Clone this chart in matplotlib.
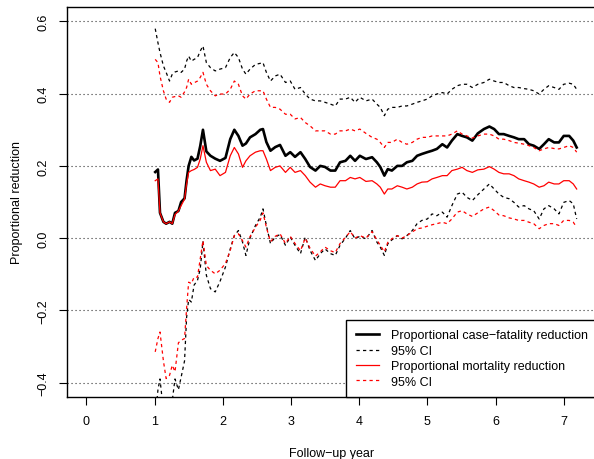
import matplotlib
matplotlib.use("Agg")
import matplotlib.pyplot as plt
from matplotlib.lines import Line2D

plt.rcParams["font.family"] = ["Liberation Sans", "DejaVu Sans"]
plt.rcParams["axes.unicode_minus"] = True

# Follow-up time (years) at which the cumulative estimates are evaluated
years = [1.01, 1.05, 1.08, 1.13, 1.17, 1.22, 1.26, 1.30, 1.35, 1.39, 1.44, 1.47,
         1.50, 1.54, 1.58, 1.63, 1.67, 1.71, 1.76, 1.82, 1.89, 1.96, 2.04, 2.11,
         2.17, 2.23, 2.29, 2.34, 2.40, 2.48, 2.55, 2.59, 2.64, 2.70, 2.77, 2.84,
         2.92, 2.99, 3.06, 3.14, 3.21, 3.28, 3.36, 3.43, 3.50, 3.58, 3.65, 3.72,
         3.80, 3.87, 3.94, 4.01, 4.10, 4.19, 4.26, 4.31, 4.37, 4.42, 4.48, 4.56,
         4.63, 4.70, 4.78, 4.85, 4.92, 5.00, 5.07, 5.14, 5.22, 5.29, 5.36, 5.44,
         5.51, 5.58, 5.66, 5.74, 5.83, 5.91, 5.98, 6.05, 6.12, 6.20, 6.27, 6.34,
         6.42, 6.49, 6.56, 6.64, 6.71, 6.78, 6.86, 6.93, 7.00, 7.08, 7.14, 7.19]

# Proportional case-fatality reduction and its 95% CI
cf_est = [0.183, 0.190, 0.070, 0.045, 0.040, 0.045, 0.040, 0.070, 0.075, 0.100, 0.110, 0.160,
          0.200, 0.225, 0.215, 0.220, 0.255, 0.300, 0.240, 0.228, 0.220, 0.214, 0.222, 0.274,
          0.300, 0.283, 0.256, 0.262, 0.279, 0.288, 0.300, 0.302, 0.266, 0.242, 0.252, 0.258,
          0.228, 0.238, 0.225, 0.238, 0.219, 0.197, 0.187, 0.200, 0.197, 0.187, 0.187, 0.210,
          0.214, 0.228, 0.214, 0.228, 0.219, 0.224, 0.210, 0.197, 0.173, 0.191, 0.187, 0.200,
          0.200, 0.210, 0.214, 0.228, 0.233, 0.238, 0.242, 0.247, 0.260, 0.251, 0.270, 0.288,
          0.283, 0.279, 0.270, 0.290, 0.302, 0.309, 0.302, 0.288, 0.288, 0.283, 0.279, 0.274,
          0.274, 0.260, 0.256, 0.247, 0.260, 0.274, 0.265, 0.265, 0.283, 0.283, 0.270, 0.251]

cf_upper = [0.580, 0.541, 0.514, 0.477, 0.459, 0.435, 0.454, 0.460, 0.463, 0.459, 0.468, 0.490,
            0.504, 0.490, 0.495, 0.500, 0.518, 0.532, 0.486, 0.472, 0.463, 0.468, 0.472, 0.500,
            0.514, 0.500, 0.468, 0.454, 0.468, 0.481, 0.484, 0.486, 0.459, 0.435, 0.449, 0.454,
            0.431, 0.435, 0.412, 0.417, 0.399, 0.385, 0.380, 0.380, 0.376, 0.371, 0.366, 0.385,
            0.385, 0.390, 0.376, 0.390, 0.380, 0.385, 0.371, 0.362, 0.339, 0.357, 0.362, 0.362,
            0.366, 0.366, 0.371, 0.376, 0.380, 0.385, 0.394, 0.399, 0.403, 0.399, 0.412, 0.422,
            0.426, 0.426, 0.417, 0.426, 0.431, 0.440, 0.435, 0.431, 0.431, 0.422, 0.417, 0.417,
            0.414, 0.412, 0.408, 0.399, 0.412, 0.422, 0.417, 0.412, 0.426, 0.429, 0.426, 0.412]

cf_lower = [-0.500, -0.420, -0.390, -0.480, -0.550, -0.520, -0.450, -0.390, -0.420, -0.385, -0.340, -0.220,
            -0.170, -0.177, -0.130, -0.117, -0.085, -0.010, -0.103, -0.140, -0.149, -0.120, -0.080, -0.030,
            0.007, 0.021, -0.011, -0.048, 0.000, 0.035, 0.058, 0.081, 0.035, -0.015, 0.003, 0.010,
            -0.020, 0.003, -0.020, -0.043, 0.003, -0.034, -0.062, -0.043, -0.030, -0.043, -0.048, -0.020,
            0.000, 0.021, -0.002, 0.005, -0.002, 0.021, -0.011, -0.025, -0.048, -0.016, -0.005, 0.007,
            -0.002, 0.007, 0.021, 0.040, 0.049, 0.053, 0.067, 0.062, 0.072, 0.058, 0.090, 0.122,
            0.127, 0.113, 0.104, 0.120, 0.136, 0.150, 0.136, 0.122, 0.113, 0.109, 0.099, 0.086,
            0.090, 0.081, 0.076, 0.053, 0.081, 0.090, 0.081, 0.067, 0.099, 0.104, 0.095, 0.053]

# Proportional mortality reduction and its 95% CI
mort_est = [0.159, 0.164, 0.070, 0.045, 0.040, 0.045, 0.040, 0.065, 0.075, 0.090, 0.108, 0.150,
            0.182, 0.187, 0.190, 0.196, 0.219, 0.256, 0.210, 0.187, 0.191, 0.173, 0.182, 0.228,
            0.251, 0.233, 0.196, 0.214, 0.228, 0.238, 0.242, 0.242, 0.219, 0.187, 0.196, 0.200,
            0.182, 0.196, 0.182, 0.187, 0.173, 0.155, 0.141, 0.150, 0.145, 0.141, 0.141, 0.159,
            0.159, 0.168, 0.164, 0.168, 0.157, 0.159, 0.150, 0.141, 0.122, 0.136, 0.136, 0.145,
            0.141, 0.136, 0.141, 0.150, 0.155, 0.156, 0.164, 0.168, 0.173, 0.173, 0.187, 0.191,
            0.196, 0.187, 0.182, 0.189, 0.191, 0.198, 0.191, 0.182, 0.178, 0.178, 0.173, 0.164,
            0.159, 0.155, 0.150, 0.141, 0.145, 0.155, 0.150, 0.150, 0.159, 0.159, 0.150, 0.136]

mort_upper = [0.495, 0.486, 0.449, 0.408, 0.385, 0.376, 0.390, 0.392, 0.394, 0.390, 0.405, 0.417,
              0.440, 0.426, 0.430, 0.435, 0.445, 0.459, 0.426, 0.408, 0.394, 0.399, 0.399, 0.412,
              0.435, 0.426, 0.394, 0.385, 0.399, 0.408, 0.408, 0.408, 0.385, 0.362, 0.362, 0.357,
              0.343, 0.343, 0.330, 0.334, 0.320, 0.311, 0.297, 0.297, 0.297, 0.288, 0.288, 0.297,
              0.297, 0.302, 0.297, 0.302, 0.290, 0.279, 0.274, 0.265, 0.251, 0.265, 0.265, 0.274,
              0.265, 0.260, 0.265, 0.274, 0.279, 0.279, 0.283, 0.283, 0.283, 0.283, 0.288, 0.297,
              0.288, 0.283, 0.277, 0.283, 0.288, 0.288, 0.283, 0.274, 0.274, 0.270, 0.265, 0.263,
              0.260, 0.256, 0.251, 0.242, 0.247, 0.251, 0.248, 0.247, 0.251, 0.256, 0.251, 0.238]

mort_lower = [-0.315, -0.278, -0.260, -0.340, -0.389, -0.380, -0.352, -0.370, -0.290, -0.283, -0.278, -0.195,
              -0.122, -0.126, -0.108, -0.108, -0.057, -0.007, -0.076, -0.089, -0.099, -0.089, -0.070, -0.034,
              0.007, 0.012, -0.007, -0.025, 0.004, 0.030, 0.050, 0.070, 0.030, -0.010, 0.005, 0.012,
              -0.015, 0.005, -0.015, -0.035, 0.000, -0.028, -0.050, -0.038, -0.025, -0.035, -0.040, -0.015,
              0.002, 0.018, 0.000, 0.007, 0.000, 0.018, -0.005, -0.020, -0.038, -0.012, -0.002, 0.007,
              0.000, 0.007, 0.017, 0.026, 0.028, 0.033, 0.037, 0.040, 0.044, 0.040, 0.053, 0.072,
              0.076, 0.067, 0.060, 0.070, 0.081, 0.086, 0.076, 0.064, 0.062, 0.056, 0.053, 0.049,
              0.049, 0.044, 0.040, 0.026, 0.035, 0.040, 0.040, 0.035, 0.049, 0.049, 0.044, 0.030]

x_ticks = [0, 1, 2, 3, 4, 5, 6, 7]
y_ticks = [-0.4, -0.2, 0.0, 0.2, 0.4, 0.6]
legend_labels = ["Proportional case\u2212fatality reduction", "95% CI",
                 "Proportional mortality reduction", "95% CI"]

W, H = 594, 460
fig = plt.figure(figsize=(W / 100, H / 100), dpi=100)
left_px, right_px, top_px, bottom_px = 66.7, 597.0, 8.0, 398.0
ax = fig.add_axes([left_px / W, 1 - bottom_px / H,
                   (right_px - left_px) / W, (bottom_px - top_px) / H])
ax.set_xlim(-0.288, 7.488)
ax.set_ylim(-0.44, 0.64)

dotted = (0, (1.0, 2.6))
for yv in y_ticks:
    ax.axhline(yv, color="#333333", lw=0.8, ls=dotted, zorder=1)

dash = (0, (2.6, 2.6))
ax.plot(years, cf_est, color="black", lw=1.9, zorder=3)
ax.plot(years, cf_upper, color="black", lw=0.9, ls=dash, zorder=3)
ax.plot(years, cf_lower, color="black", lw=0.9, ls=dash, zorder=3)
ax.plot(years, mort_est, color="red", lw=0.9, zorder=4)
ax.plot(years, mort_upper, color="red", lw=0.9, ls=dash, zorder=4)
ax.plot(years, mort_lower, color="red", lw=0.9, ls=dash, zorder=4)

ax.set_xticks(x_ticks)
ax.set_xticklabels([str(v) for v in x_ticks])
ax.set_yticks(y_ticks)
ax.set_yticklabels([f"{v:.1f}".replace("-", "\u2212") for v in y_ticks],
                   rotation=90, va="center")
ax.tick_params(axis="both", direction="out", length=5.6, width=0.8,
               labelsize=9, color="black")
ax.tick_params(axis="x", pad=7.5)
ax.tick_params(axis="y", pad=7)
for side in ("left", "bottom", "top"):
    ax.spines[side].set_linewidth(1.0)
ax.spines["right"].set_visible(False)

ax.set_xlabel("Follow\u2212up year", fontsize=9, labelpad=14)
ax.set_ylabel("Proportional reduction", fontsize=9, labelpad=10)

handles = [Line2D([], [], color="black", lw=1.9),
           Line2D([], [], color="black", lw=0.9, ls=dash),
           Line2D([], [], color="red", lw=0.9),
           Line2D([], [], color="red", lw=0.9, ls=dash)]
leg = ax.legend(handles, legend_labels, loc="lower right", bbox_to_anchor=(1.0, 0.0),
                borderaxespad=0, fontsize=9, frameon=True, fancybox=False,
                edgecolor="black", framealpha=1, handlelength=1.9,
                handletextpad=0.9, labelspacing=0.27, borderpad=0.75)
leg.get_frame().set_linewidth(1.0)
leg.set_zorder(6)

fig.savefig("out.png", dpi=100)
